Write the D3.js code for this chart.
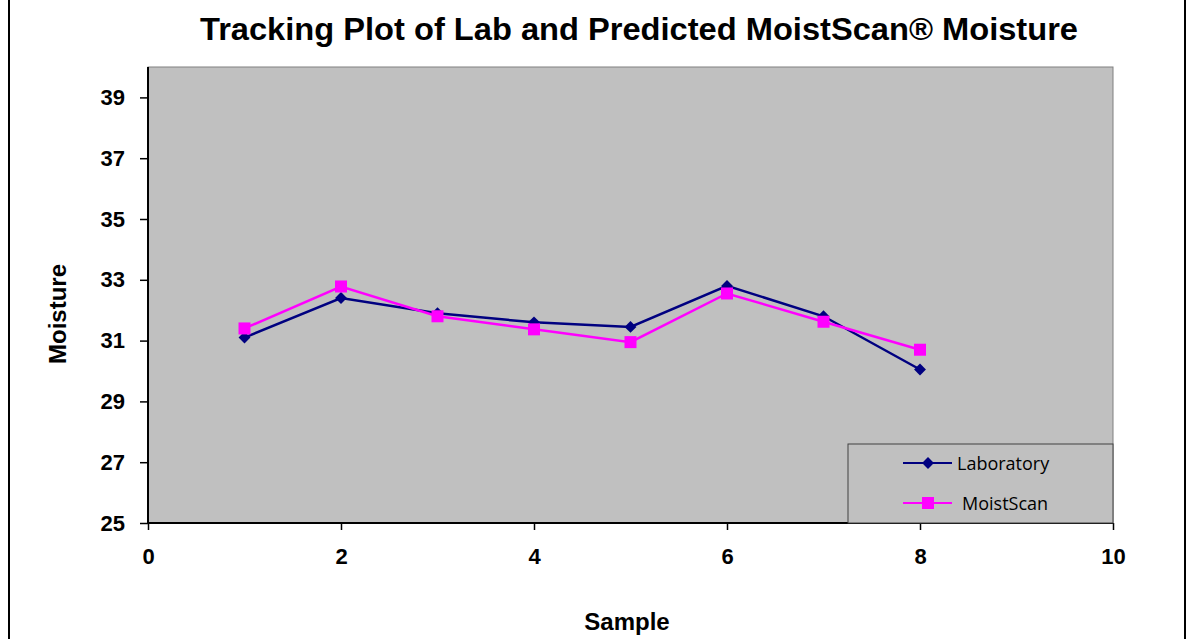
<!DOCTYPE html>
<html lang="en">
<head>
<meta charset="UTF-8">
<title>Tracking Plot</title>
<script src="https://d3js.org/d3.v7.min.js"></script>
<style>
  body { margin: 0; background: #fff; }
  svg { display: block; }
</style>
</head>
<body>
<div id="chart"></div>
<script>
    // data
    const samples = [1, 2, 3, 4, 5, 6, 7, 8];
    const laboratory = [31.1, 32.4, 31.9, 31.6, 31.45, 32.8, 31.8, 30.05];
    const moistScan = [31.4, 32.78, 31.8, 31.37, 30.95, 32.55, 31.62, 30.7];
    const xTicks = [0, 2, 4, 6, 8, 10];
    const yTicks = [25, 27, 29, 31, 33, 35, 37, 39];

    const width = 1190, height = 639;
    const plot = { left: 148, top: 67, right: 1113, bottom: 523 };
    const font = "'Liberation Sans', Arial, sans-serif";

    const svg = d3.select("#chart").append("svg")
        .attr("width", width)
        .attr("height", height);

    // outer frame (only sides show)
    svg.append("rect")
        .attr("x", 9).attr("y", -5)
        .attr("width", 1176).attr("height", height + 10)
        .attr("fill", "none").attr("stroke", "#000").attr("stroke-width", 2);

    const x = d3.scaleLinear().domain([0, 10]).range([plot.left, plot.right]);
    const y = d3.scaleLinear().domain([25, 40]).range([plot.bottom, plot.top]);

    // plot area
    svg.append("rect")
        .attr("x", plot.left).attr("y", plot.top)
        .attr("width", plot.right - plot.left).attr("height", plot.bottom - plot.top)
        .attr("fill", "#c0c0c0").attr("stroke", "#808080").attr("stroke-width", 1);

    // axes
    const yAxis = svg.append("g")
        .attr("transform", `translate(${plot.left},0)`)
        .call(d3.axisLeft(y).tickValues(yTicks).tickSize(8).tickPadding(15));
    const xAxis = svg.append("g")
        .attr("transform", `translate(0,${plot.bottom})`)
        .call(d3.axisBottom(x).tickValues(xTicks).tickSize(7).tickPadding(18));

    [yAxis, xAxis].forEach(g => {
        g.select(".domain").attr("stroke", "#000").attr("stroke-width", 2);
        g.selectAll(".tick line").attr("stroke", "#000").attr("stroke-width", 1.5);
        g.selectAll("text")
            .attr("fill", "#000")
            .style("font-family", font)
            .style("font-weight", "bold")
            .style("font-size", "22px");
    });
    xAxis.select(".domain").attr("d", `M${plot.left},0H${plot.right}`);
    yAxis.select(".domain").attr("d", `M0,${plot.bottom}V${plot.top}`);

    const lab = samples.map((s, i) => ({ x: s, y: laboratory[i] }));
    const ms = samples.map((s, i) => ({ x: s, y: moistScan[i] }));
    const line = d3.line().x(d => x(d.x)).y(d => y(d.y));

    // laboratory
    svg.append("path").datum(lab)
        .attr("d", line).attr("fill", "none")
        .attr("stroke", "#000080").attr("stroke-width", 2.5);
    // moistscan
    svg.append("path").datum(ms)
        .attr("d", line).attr("fill", "none")
        .attr("stroke", "#ff00ff").attr("stroke-width", 2.5);

    const diamond = d3.symbol().type(d3.symbolDiamond2).size(90);
    svg.selectAll(".lab").data(lab).enter().append("path")
        .attr("class", "lab")
        .attr("d", diamond)
        .attr("transform", d => `translate(${x(d.x)},${y(d.y)})`)
        .attr("fill", "#000080");

    svg.selectAll(".ms").data(ms).enter().append("rect")
        .attr("class", "ms")
        .attr("x", d => x(d.x) - 6).attr("y", d => y(d.y) - 6)
        .attr("width", 12).attr("height", 12)
        .attr("fill", "#ff00ff");

    // legend
    const legend = svg.append("g");
    legend.append("rect")
        .attr("x", 848).attr("y", 444).attr("width", 265).attr("height", 79)
        .attr("fill", "#c0c0c0").attr("stroke", "#404040").attr("stroke-width", 1);
    const items = [
        { name: "Laboratory", color: "#000080", y: 463, tx: 957 },
        { name: "MoistScan", color: "#ff00ff", y: 503, tx: 962 }
    ];
    items.forEach((it, i) => {
        legend.append("line")
            .attr("x1", 903).attr("x2", 952).attr("y1", it.y).attr("y2", it.y)
            .attr("stroke", it.color).attr("stroke-width", 2);
        if (i === 0) {
            legend.append("path").attr("d", diamond)
                .attr("transform", `translate(928,${it.y})`).attr("fill", it.color);
        } else {
            legend.append("rect").attr("x", 922).attr("y", it.y - 6)
                .attr("width", 12).attr("height", 12).attr("fill", it.color);
        }
        legend.append("text")
            .attr("x", it.tx).attr("y", it.y + 7)
            .style("font-family", "'Open Sans', sans-serif")
            .style("font-size", "18px")
            .attr("fill", "#000")
            .text(it.name);
    });

    // title and axis titles
    svg.append("text")
        .attr("x", 639).attr("y", 40)
        .attr("text-anchor", "middle")
        .attr("textLength", 878).attr("lengthAdjust", "spacingAndGlyphs")
        .style("font-family", font)
        .style("font-weight", "bold").style("font-size", "31px")
        .text("Tracking Plot of Lab and Predicted MoistScan® Moisture");

    svg.append("text")
        .attr("transform", "translate(66,314) rotate(-90)")
        .attr("text-anchor", "middle")
        .style("font-family", font)
        .style("font-weight", "bold").style("font-size", "24px")
        .text("Moisture");

    svg.append("text")
        .attr("x", 627).attr("y", 630)
        .attr("text-anchor", "middle")
        .style("font-family", font)
        .style("font-weight", "bold").style("font-size", "24px")
        .text("Sample");
</script>
</body>
</html>
